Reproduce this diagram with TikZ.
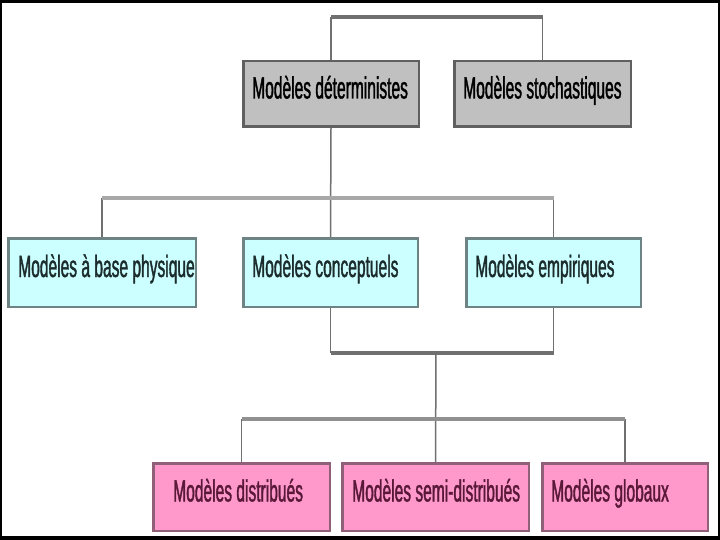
\documentclass[tikz,border=0pt]{standalone}
\usepackage{fontspec}
\setmainfont[FakeStretch=0.507, FakeBold=1.2]{Liberation Sans}
\newcommand\boxtxt[3]{\makebox[#1][l]{\hspace*{#2}#3}}
\definecolor{grayfill}{HTML}{C0C0C0}
\definecolor{grayedge}{HTML}{606060}
\definecolor{cyanfill}{HTML}{CCFFFF}
\definecolor{cyanedge}{HTML}{6E8484}
\definecolor{pinkfill}{HTML}{FF99CC}
\definecolor{pinkedge}{HTML}{906078}
\definecolor{cyantext}{HTML}{1C2C2C}
\definecolor{pinktext}{HTML}{5A1838}
\definecolor{lineA}{HTML}{707070}
\definecolor{lineB}{HTML}{A8A8A8}
\definecolor{lineC}{HTML}{909090}
\tikzset{
  basebox/.style={draw, line width=2.5pt, inner xsep=0pt, inner ysep=0pt,
    font=\fontsize{30.7pt}{34pt}\selectfont, text height=22pt, text depth=13pt},
  graybox/.style={basebox, fill=grayfill, draw=grayedge, text=black, minimum height=65.5pt},
  cyanbox/.style={basebox, fill=cyanfill, draw=cyanedge, text=cyantext, minimum height=68.5pt},
  pinkbox/.style={basebox, fill=pinkfill, draw=pinkedge, text=pinktext, minimum height=67.5pt},
  vline/.style={draw=lineA, line width=1.5pt},
  hlineA/.style={draw=lineA, line width=4pt},
  hlineB/.style={draw=lineB, line width=4pt},
  hlineC/.style={draw=lineC, line width=3.5pt}
}
\begin{document}
\begin{tikzpicture}[x=1pt, y=-1pt]
\useasboundingbox (0,0) rectangle (720,540);
\fill[white] (0,0) rectangle (720,540);
% frame
\fill[black] (0,0) rectangle (720,3);
\fill[black] (0,0) rectangle (2,540);
\fill[black] (718,0) rectangle (720,540);
\fill[black] (0,536) rectangle (720,540);

% nodes
\node[graybox] (det) at (331,94) {\boxtxt{175.5pt}{9pt}{Modèles déterministes}};
\node[graybox] (sto) at (542.5,94) {\boxtxt{176.5pt}{9pt}{Modèles stochastiques}};
\node[cyanbox] (phys) at (102,272.5) {\boxtxt{187.5pt}{10pt}{Modèles à base physique}};
\node[cyanbox] (conc) at (330.5,272.5) {\boxtxt{174.5pt}{9pt}{Modèles conceptuels}};
\node[cyanbox] (emp) at (553.5,272.5) {\boxtxt{174.5pt}{9pt}{Modèles empiriques}};
\node[pinkbox] (dist) at (241.5,497) {\boxtxt{176.5pt}{20pt}{Modèles distribués}};
\node[pinkbox] (semi) at (435.5,497) {\boxtxt{186.5pt}{10pt}{Modèles semi-distribués}};
\node[pinkbox] (glob) at (625,497) {\boxtxt{165.5pt}{9pt}{Modèles globaux}};

% junction coordinates
\coordinate (j1) at (331,17);
\coordinate (j2) at (331,198);
\coordinate (j3) at (436,353);
\coordinate (j4) at (436,419);

% top connector
\draw[vline] (det.north) -- (det.north |- j1);
\draw[vline] (sto.north) -- (sto.north |- j1);
\draw[hlineA] (det.north |- j1) -- (sto.north |- j1);

% middle connector
\draw[vline] (det.south) -- (conc.north);
\draw[vline] (phys.north) -- (phys.north |- j2);
\draw[vline] (emp.north) -- (emp.north |- j2);
\draw[hlineB] (phys.north |- j2) -- (emp.north |- j2);

% lower connector
\draw[vline] (conc.south) -- (conc.south |- j3);
\draw[vline] (emp.south) -- (emp.south |- j3);
\draw[hlineA] (conc.south |- j3) -- (emp.south |- j3);

% bottom connector
\draw[vline] (j3) -- (semi.north);
\draw[vline] (dist.north) -- (dist.north |- j4);
\draw[vline] (glob.north) -- (glob.north |- j4);
\draw[hlineC] (dist.north |- j4) -- (glob.north |- j4);
\end{tikzpicture}
\end{document}
